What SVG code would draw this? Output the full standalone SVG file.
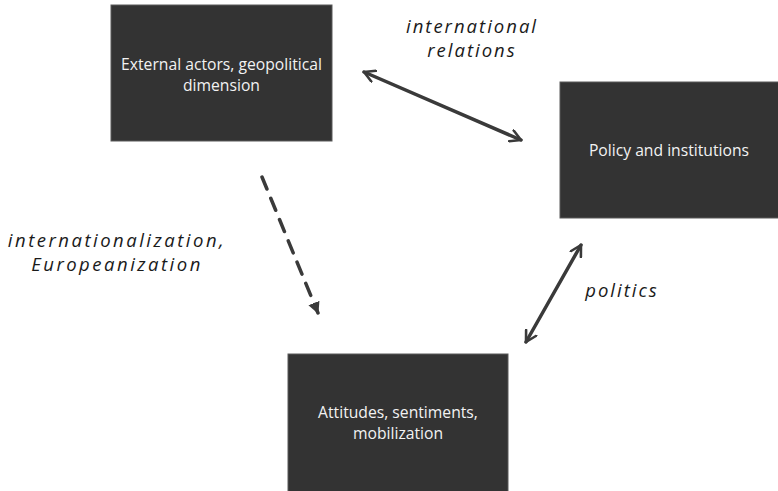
<svg xmlns="http://www.w3.org/2000/svg" width="778" height="491" viewBox="0 0 778 491">
<defs>
<style>
.box{fill:#333333;stroke:#5a5a5a;stroke-width:1}
.bt{font-family:"Open Sans","Liberation Sans",sans-serif;font-size:15.7px;fill:#f2f2f2;text-anchor:middle}
.lbl{font-family:"Open Sans","DejaVu Sans",sans-serif;font-style:italic;font-size:18.5px;letter-spacing:2px;fill:#1a1a1a;text-anchor:middle}
.wide{letter-spacing:2.5px}
.con{fill:none;stroke:#3a3a3a;stroke-width:3.5;stroke-linecap:round}
</style>
<marker id="chev" viewBox="0 0 12 12" refX="10" refY="6" markerWidth="4" markerHeight="4" orient="auto-start-reverse" markerUnits="strokeWidth">
<path d="M1,1 L10,6 L1,11" fill="none" stroke="#3a3a3a" stroke-width="2.2" stroke-linecap="round" stroke-linejoin="round"/>
</marker>
<marker id="tri" viewBox="0 0 10 10" refX="9" refY="5" markerWidth="3.4" markerHeight="3.4" orient="auto" markerUnits="strokeWidth">
<path d="M0,0 L10,5 L0,10 Z" fill="#3a3a3a"/>
</marker>
</defs>
<rect width="778" height="491" fill="#ffffff"/>
<g id="connectors">
<line class="con" x1="364" y1="72" x2="521" y2="140" marker-start="url(#chev)" marker-end="url(#chev)"/>
<line class="con" x1="581" y1="245" x2="526" y2="342" marker-start="url(#chev)" marker-end="url(#chev)"/>
<line class="con" x1="262" y1="177" x2="318" y2="313" stroke-dasharray="13,10" stroke-linecap="butt" stroke-width="4" marker-end="url(#tri)"/>
</g>
<g id="external">
<rect class="box" x="111" y="5" width="221" height="136"/>
<text class="bt" x="221.5" y="70">External actors, geopolitical</text>
<text class="bt" x="221.5" y="91">dimension</text>
</g>
<g id="policy">
<rect class="box" x="560" y="82" width="220" height="136"/>
<text class="bt" x="669" y="156">Policy and institutions</text>
</g>
<g id="attitudes">
<rect class="box" x="288" y="354" width="220" height="140"/>
<text class="bt" x="398" y="418">Attitudes, sentiments,</text>
<text class="bt" x="398" y="439">mobilization</text>
</g>
<g id="labels">
<text class="lbl" x="472" y="33">international</text>
<text class="lbl" x="472" y="57">relations</text>
<text class="lbl wide" x="117" y="247">internationalization,</text>
<text class="lbl wide" x="117" y="271">Europeanization</text>
<text class="lbl" x="622" y="297">politics</text>
</g>
</svg>
